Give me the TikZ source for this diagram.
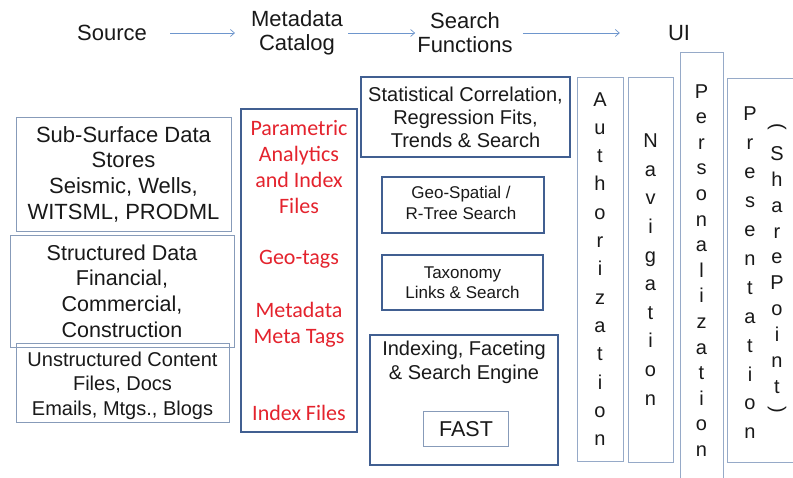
\documentclass[tikz,border=0pt]{standalone}
\usepackage{fontspec}
\setmainfont{Liberation Sans}
\newfontfamily\calfont{Carlito}
\usetikzlibrary{arrows.meta}
\definecolor{srcline}{RGB}{135,155,185}
\definecolor{darkline}{RGB}{65,95,145}
\definecolor{uiline}{RGB}{150,170,200}
\definecolor{arrowblue}{RGB}{110,150,205}
\definecolor{redtext}{RGB}{228,35,45}
\definecolor{txt}{RGB}{25,25,25}
\begin{document}
\begin{tikzpicture}[x=1pt,y=-1pt,
  every node/.style={text=txt},
  box/.style={draw, rectangle, inner sep=0pt, align=center},
  srcbox/.style={box, draw=srcline, line width=0.9pt},
  metabox/.style={box, draw=darkline, line width=1.7pt},
  searchbox/.style={box, draw=darkline, line width=1.7pt},
  fastbox/.style={box, draw=srcline, line width=0.9pt},
  uibox/.style={box, draw=uiline, line width=0.9pt},
  head/.style={inner sep=0pt, align=center, font=\fontsize{22}{24}\selectfont},
  redlbl/.style={inner sep=0pt, align=center, text=redtext, font=\calfont\fontsize{22}{26}\selectfont},
  flow/.style={draw=arrowblue, line width=0.7pt, -{Straight Barb[length=4pt,width=7pt]}},
  vtext/.style={inner sep=0pt, align=center}
]
\useasboundingbox (0,0) rectangle (793,478);
\fill[white] (0,0) rectangle (793,478);

% headings
\node[head] (src) at (112,33) {Source};
\node[head] (cat) at (297,33) {Metadata\\Catalog};
\node[head] (sf) at (465,33) {Search\\Functions};
\node[head] (ui) at (679,33) {UI};
\draw[flow, shorten <=23pt, shorten >=16pt] (src.east) -- (cat.west);
\draw[flow, shorten <=5pt, shorten >=2pt] (cat.east) -- (sf.west);
\draw[flow, shorten <=10pt, shorten >=48pt] (sf.east) -- (ui.west);

% sources
\node[srcbox, minimum width=215pt, minimum height=114pt, font=\fontsize{22}{25.7}\selectfont] (sub) at (123.5,174)
  {Sub-Surface Data\\Stores\\Seismic, Wells,\\WITSML, PRODML};
\node[srcbox, minimum width=224pt, minimum height=112pt, font=\fontsize{21.5}{25.7}\selectfont] (str) at (122,291)
  {Structured Data\\Financial,\\Commercial,\\Construction};
\node[srcbox, minimum width=213pt, minimum height=79pt] (uns) at (122.5,382.5) {};
\node[inner sep=0pt, align=center, font=\fontsize{20}{24.5}\selectfont] (unst) at (122.5,385.5)
  {Unstructured Content\\Files, Docs\\Emails, Mtgs., Blogs};

% metadata catalog
\node[metabox, minimum width=116pt, minimum height=323pt] (meta) at (299,270.5) {};
\node[redlbl] (par) at (299,167) {Parametric\\Analytics\\and Index\\Files};
\node[redlbl] (geot) at (299,259) {Geo-tags};
\node[redlbl] (mmt) at (299,325) {Metadata\\Meta Tags};
\node[redlbl] (idxf) at (299,413) {Index Files};

% search functions
\node[searchbox, minimum width=209pt, minimum height=80pt, font=\fontsize{20}{23}\selectfont] (stat) at (465.5,117)
  {Statistical Correlation,\\Regression Fits,\\Trends \& Search};
\node[searchbox, minimum width=162pt, minimum height=56pt] (geo) at (463,205) {};
\node[inner sep=0pt, align=center, font=\fontsize{17}{21}\selectfont] (geot2) at (461,203)
  {Geo-Spatial /\\R-Tree Search};
\node[searchbox, minimum width=161pt, minimum height=55pt, font=\fontsize{17}{20}\selectfont] (tax) at (462.5,282.5)
  {Taxonomy\\Links \& Search};
\node[searchbox, minimum width=188pt, minimum height=130pt] (idx) at (464,400) {};
\node[inner sep=0pt, align=center, font=\fontsize{20}{24}\selectfont] (idxt) at (464,362)
  {Indexing, Faceting\\\& Search Engine};
\node[fastbox, minimum width=85pt, minimum height=35pt, font=\fontsize{21.5}{24}\selectfont] (fast) at (466,429) {FAST};

% UI columns
\node[uibox, minimum width=46pt, minimum height=384pt, font=\fontsize{20}{28.3}\selectfont] (auth) at (600,269)
  {A\\u\\t\\h\\o\\r\\i\\z\\a\\t\\i\\o\\n};
\node[uibox, minimum width=45pt, minimum height=385pt, font=\fontsize{20}{28.6}\selectfont] (nav) at (650.5,269.5)
  {N\\a\\v\\i\\g\\a\\t\\i\\o\\n};
\node[uibox, minimum width=43pt, minimum height=428pt] (pers) at (701.5,266) {};
\node[vtext, font=\fontsize{20}{25.6}\selectfont] (perst) at (701.5,270.5)
  {P\\e\\r\\s\\o\\n\\a\\l\\i\\z\\a\\t\\i\\o\\n};
\node[uibox, minimum width=80pt, minimum height=384pt] (pres) at (767,270) {};
\node[vtext, font=\fontsize{20}{28.9}\selectfont] (prest) at (750,273)
  {P\\r\\e\\s\\e\\n\\t\\a\\t\\i\\o\\n};
\node[vtext, font=\fontsize{20}{25.9}\selectfont] (spt) at (777,270)
  {S\\h\\a\\r\\e\\P\\o\\i\\n\\t};
\node[inner sep=0pt, rotate=-90, font=\fontsize{20}{24}\selectfont] (lp) at (777,127) {(};
\node[inner sep=0pt, rotate=-90, font=\fontsize{20}{24}\selectfont] (rp) at (777,410) {)};
\end{tikzpicture}
\end{document}
